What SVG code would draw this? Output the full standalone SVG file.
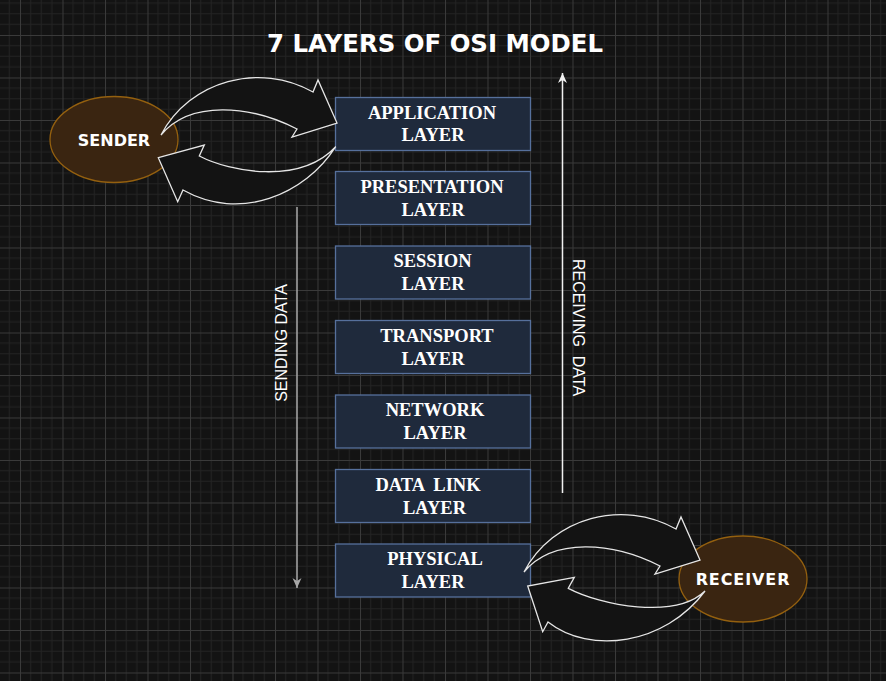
<svg xmlns="http://www.w3.org/2000/svg" width="886" height="681" viewBox="0 0 886 681">
<style>
.layer rect{fill:#1f2a3c;stroke:#56709c;stroke-width:1.3}
.layer text{font-family:"Liberation Serif","Times New Roman",serif;font-weight:bold;font-size:18.5px;fill:#ffffff;text-anchor:middle}
.ell ellipse{fill:#3a2511;stroke:#94600f;stroke-width:1.3}
.ell text{font-family:"DejaVu Sans",Verdana,sans-serif;font-weight:bold;font-size:16px;fill:#ffffff;text-anchor:middle}
.carrow{fill:#131313;stroke:#e6e6e6;stroke-width:1.3;stroke-linejoin:miter}
.vlabel{font-family:"Liberation Sans",Arial,sans-serif;font-size:16px;fill:#ffffff;text-anchor:middle}
</style>
<defs>
<pattern id="grid" patternUnits="userSpaceOnUse" x="20" y="35" width="42.5" height="42.5">
<path d="M10.625,0V42.5M21.25,0V42.5M31.875,0V42.5M0,10.625H42.5M0,21.25H42.5M0,31.875H42.5" stroke="#232323" stroke-width="1" fill="none"/>
<path d="M0.5,0V42.5M0,0.5H42.5" stroke="#3a3a3a" stroke-width="1" fill="none"/>
</pattern>
<marker id="ahGrey" markerUnits="userSpaceOnUse" markerWidth="12" markerHeight="10" refX="10" refY="4.5" orient="auto">
<path d="M0,0 L10,4.5 L0,9 L3,4.5 z" fill="#a8a8a8"/>
</marker>
<marker id="ahWhite" markerUnits="userSpaceOnUse" markerWidth="12" markerHeight="10" refX="10" refY="4.5" orient="auto">
<path d="M0,0 L10,4.5 L0,9 L3,4.5 z" fill="#f0f0f0"/>
</marker>
</defs>
<rect width="886" height="681" fill="#131313"/>
<rect width="886" height="681" fill="url(#grid)"/>

<text x="435" y="52" font-family="'DejaVu Sans',sans-serif" font-weight="bold" font-size="24" fill="#ffffff" text-anchor="middle" textLength="336" lengthAdjust="spacingAndGlyphs">7 LAYERS OF OSI MODEL</text>

<g id="sender" class="ell">
<ellipse cx="114" cy="139.5" rx="64" ry="43"/>
<text x="114" y="145.5">SENDER</text>
</g>
<g id="receiver" class="ell">
<ellipse cx="743" cy="579" rx="64" ry="43"/>
<text x="743" y="585" letter-spacing="0.9">RECEIVER</text>
</g>

<g id="application" class="layer">
<rect x="335.5" y="97.5" width="195" height="53"/>
<text x="432" y="118.5">APPLICATION</text>
<text x="433" y="141">LAYER</text>
</g>
<g id="presentation" class="layer">
<rect x="335.5" y="171.5" width="195" height="53"/>
<text x="432" y="192.5">PRESENTATION</text>
<text x="433" y="215.5">LAYER</text>
</g>
<g id="session" class="layer">
<rect x="335.5" y="246" width="195" height="53"/>
<text x="432.5" y="267">SESSION</text>
<text x="433" y="290">LAYER</text>
</g>
<g id="transport" class="layer">
<rect x="335.5" y="320.5" width="195" height="53"/>
<text x="437" y="341.5">TRANSPORT</text>
<text x="433" y="364.5">LAYER</text>
</g>
<g id="network" class="layer">
<rect x="335.5" y="395" width="195" height="53"/>
<text x="435" y="416">NETWORK</text>
<text x="435" y="439">LAYER</text>
</g>
<g id="datalink" class="layer">
<rect x="335.5" y="469.5" width="195" height="53"/>
<text x="428" y="490.5" xml:space="preserve">DATA  LINK</text>
<text x="434.5" y="513.5">LAYER</text>
</g>
<g id="physical" class="layer">
<rect x="335.5" y="544" width="195" height="53"/>
<text x="435" y="565">PHYSICAL</text>
<text x="433" y="588">LAYER</text>
</g>

<g id="connectors">
<path class="carrow" d="M161,135 C190,80 260,62 313,92 L318,80 L337,123 L292,137 L297,129 C250,105 190,100 161,135 Z"/>
<path class="carrow" d="M335.7,146.7 C305,195 240,222 183,190 L177.7,201.7 L158.3,157.7 L204.3,145 L199.3,156 C230,172 300,185 335.7,146.7 Z"/>
<path class="carrow" d="M524,572 C553,517 623,499 676,529 L681,517 L700,560 L655,574 L660,566 C613,542 553,537 524,572 Z"/>
<path class="carrow" d="M705,591 C665,645 590,655 548,622 L542.7,631.7 L527.7,586 L574.3,577.3 L568.3,588.3 C600,605 675,620 705,591 Z"/>
<line x1="297" y1="207" x2="297" y2="588" stroke="#a8a8a8" stroke-width="1.5" marker-end="url(#ahGrey)"/>
<line x1="562.5" y1="493" x2="562.5" y2="73" stroke="#f0f0f0" stroke-width="1.5" marker-end="url(#ahWhite)"/>
</g>

<text class="vlabel" transform="translate(286.5,343) rotate(-90)">SENDING DATA</text>
<text class="vlabel" transform="translate(573,327.5) rotate(90)" xml:space="preserve">RECEIVING  DATA</text>
</svg>
